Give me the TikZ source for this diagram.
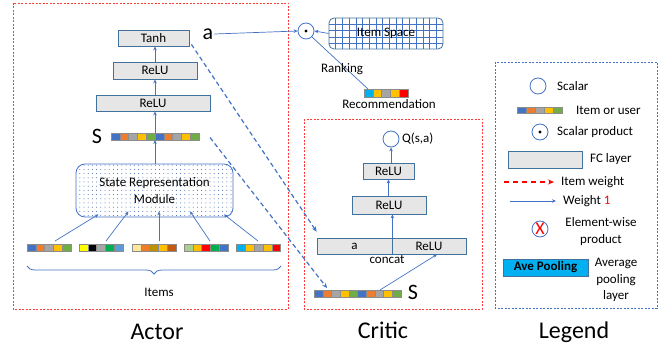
\documentclass[tikz,border=0pt]{standalone}
\usepackage{fontspec}
\setmainfont{Carlito}
\usetikzlibrary{arrows.meta,patterns.meta,decorations.pathreplacing,calc}
\definecolor{lineblue}{HTML}{4472C4}
\definecolor{boxline}{HTML}{41719C}
\definecolor{boxfill}{HTML}{E7E6E6}
\definecolor{redbox}{HTML}{FF3B3B}
\definecolor{cblue}{HTML}{4472C4}
\definecolor{corange}{HTML}{ED7D31}
\definecolor{cgray}{HTML}{A5A5A5}
\definecolor{cgold}{HTML}{FFC000}
\definecolor{cgreen}{HTML}{70AD47}
\definecolor{cyellow}{HTML}{FFFF00}
\definecolor{cblack}{HTML}{000000}
\definecolor{cbgreen}{HTML}{00B050}
\definecolor{clblue}{HTML}{5B9BD5}
\definecolor{ctan}{HTML}{FFE699}
\definecolor{cdgold}{HTML}{BF9000}
\definecolor{cdorange}{HTML}{C55A11}
\definecolor{clgreen}{HTML}{A9D18E}
\definecolor{cred}{HTML}{FF0000}
\definecolor{ccyan}{HTML}{00B0F0}
\newcommand{\myfs}{\fontsize{13}{16.5}\selectfont}
\newcommand{\myfb}{\fontsize{22}{24}\selectfont}
\newcommand{\myft}{\fontsize{24}{28}\selectfont}
\newcommand{\mycells}[3]{\foreach \clr [count=\i from 0] in {#3}{\draw[cellline, fill=\clr] ($(#1.north west)+(\i*#2,0)$) rectangle ($(#1.south west)+(\i*#2+#2,0)$);}}
\begin{document}
\begin{tikzpicture}[x=1pt,y=-1pt,
  fc/.style={draw=boxline, fill=boxfill, line width=0.8pt, inner sep=0pt, font=\myfs},
  vecnode/.style={inner sep=0pt, outer sep=0pt, minimum height=7},
  cellline/.style={draw=black!45, line width=0.3pt},
  arr/.style={draw=lineblue, line width=0.7pt, -{Stealth[length=4pt,width=3.5pt]}},
  dasharr/.style={draw=lineblue, line width=1.2pt, dash pattern=on 4.5pt off 3pt, -{Stealth[length=5pt,width=4.5pt]}},
  redframe/.style={draw=redbox, line width=0.8pt, dash pattern=on 2pt off 1.5pt},
  blueframe/.style={draw=lineblue, line width=0.8pt, dash pattern=on 2pt off 1.5pt},
  scal/.style={circle, draw=lineblue, line width=0.8pt, minimum size=16, inner sep=0pt},
  lab/.style={font=\myfs, inner sep=1pt},
  title/.style={font=\myft}]
\useasboundingbox (0,0) rectangle (672,350);

% ---------- frames ----------
\draw[redframe] (13,3) rectangle (288,309);
\draw[redframe] (304,119) rectangle (482,309);
\draw[blueframe] (495,62) rectangle (657,308);

% ---------- Actor ----------
\node[fc, minimum width=71, minimum height=16] (tanh) at (153.5,38) {Tanh};
\node[font=\myfb, inner sep=1pt] (alab) at (208,34) {a};
\node[fc, minimum width=84, minimum height=17] (relu1) at (155,70.5) {ReLU};
\node[fc, minimum width=114, minimum height=16] (relu2) at (153,103) {ReLU};
\node[vecnode, minimum width=88] (sA) at (155,136.5) {};
\mycells{sA}{8.8}{cblue,corange,cgray,cgold,cgreen,cblue,corange,cgray,cgold,cgreen}
\node[font=\myfb, inner sep=1pt] (sAlab) at (97,136) {S};
\node[draw=lineblue, line width=0.8pt, rounded corners=9pt,
  pattern={Dots[distance=4.2pt,radius=0.5pt]}, pattern color=lineblue!85!black,
  minimum width=157, minimum height=53, align=center, font=\myfs] (srm) at (154.5,190.5) {State Representation\\Module};

\node[vecnode, minimum width=44] (i1) at (49,247.5) {};
\node[vecnode, minimum width=44] (i2) at (101,247.5) {};
\node[vecnode, minimum width=44] (i3) at (154,247.5) {};
\node[vecnode, minimum width=44] (i4) at (206,247.5) {};
\node[vecnode, minimum width=44] (i5) at (258.5,247.5) {};
\mycells{i1}{8.8}{cblue,corange,cgray,cgold,cgreen}
\mycells{i2}{8.8}{cyellow,cblack,cgray,cbgreen,clblue}
\mycells{i3}{8.8}{ctan,corange,cdgold,cgold,cdorange}
\mycells{i4}{8.8}{clgreen,cgold,cred,cbgreen,cblue}
\mycells{i5}{8.8}{ccyan,cgold,cgray,cgold,cred}

\draw[arr] ($(i1.north)+(6,-3)$) -- ($(srm.south)+(-56,-3)$);
\draw[arr] ($(i2.north)+(5,-3)$) -- ($(srm.south)+(-26,-6)$);
\draw[arr] ($(i3.north)+(5,-3)$) -- ($(srm.south)+(4.5,-6)$);
\draw[arr] ($(i4.north)+(4,-3)$) -- ($(srm.south)+(35.5,-6)$);
\draw[arr] ($(i5.north)+(-0.5,-3)$) -- ($(srm.south)+(69.5,-3)$);

\draw[draw=lineblue, line width=0.8pt, decorate, decoration={brace, mirror, amplitude=8pt}] (27,266) -- (281,266);
\node[lab] (items) at (159,292) {Items};

\draw[arr] (srm.north -| sA.south) -- (sA.south);
\draw[arr] (sA.north) -- (relu2.south -| sA.north);
\draw[arr] (relu2.north -| relu1.south) -- (relu1.south);
\draw[arr] (relu1.north) -- (tanh.south -| relu1.north);

\node[title] (actor) at (157,332) {Actor};

% ---------- top right ----------
\node[scal] (dot) at (306,31) {};
\fill (dot.center) circle (1.6);
\begin{scope}
\clip[rounded corners=5pt] (329,18) rectangle (443,49);
\foreach \k in {1,...,16} \draw[lineblue, line width=0.6pt] (329+\k*6.7,18) -- (329+\k*6.7,49);
\foreach \k in {1,...,4} \draw[lineblue, line width=0.6pt] (329,18+\k*6.3) -- (443,18+\k*6.3);
\end{scope}
\node[draw=boxline, line width=0.8pt, rounded corners=5pt, minimum width=114, minimum height=31, font=\myfs] (isp) at (386,33.5) {Item Space};
\draw[arr] (alab.east) -- (dot.west);
\draw[arr] (isp.west) -- (dot.east);
\node[vecnode, minimum width=44, minimum height=8] (rec) at (386,93) {};
\mycells{rec}{8.8}{ccyan,cgold,cgray,cgold,cred}
\draw[lineblue, line width=0.7pt] (dot.south east) -- ($(rec.north west)+(4,0)$);
\node[lab] (rank) at (342,69) {Ranking};
\node[lab] (recl) at (389,104) {Recommendation};

% ---------- Critic ----------
\node[scal] (q) at (391,139) {};
\node[lab, anchor=west] (qlab) at (401,139) {Q(s,a)};
\node[fc, minimum width=51, minimum height=16] (cr1) at (388.5,171) {ReLU};
\node[fc, minimum width=74, minimum height=18] (cr2) at (389,205) {ReLU};
\node[fc, minimum width=75, minimum height=16] (ca) at (354.5,246) {a};
\node[fc, minimum width=74, minimum height=16] (cr) at (429,246) {ReLU};
\node[lab] (concat) at (387,259.5) {concat};
\node[vecnode, minimum width=87] (sC) at (357.5,293.5) {};
\mycells{sC}{8.7}{cblue,corange,cgray,cgold,cgreen,cblue,corange,cgray,cgold,cgreen}
\node[font=\myfb, inner sep=1pt] (sClab) at (413,292) {S};

\draw[arr] ($(sC.north west)+(66,0)$) -- ($(cr.south)+(8,0)$);
\draw[arr] (ca.north east) -- (ca.north east |- cr2.south);
\draw[arr] (cr2.north -| cr1.south) -- (cr1.south);
\draw[arr] (cr1.north -| q.south) -- (q.south);

\coordinate (d1s) at ($(tanh.south east)+(2,-2)$);
\coordinate (d1e) at ($(ca.north west)+(0,-6)$);
\draw[dasharr] (d1s) -- (d1e);
\coordinate (d2s) at ($(sA.east)+(11,1)$);
\coordinate (d2e) at ($(sC.north west)+(13,-2)$);
\draw[dasharr] (d2s) -- (d2e);

\node[title] (critic) at (383,330) {Critic};

% ---------- Legend ----------
\node[scal] (lg1) at (538,86) {};
\node[lab, anchor=west] (lg1t) at (556,86) {Scalar};
\node[vecnode, minimum width=45, minimum height=6] (lg2) at (539.5,110) {};
\mycells{lg2}{9}{cblue,corange,cgray,cgold,cgreen}
\node[lab, anchor=west] (lg2t) at (575,110) {Item or user};
\node[scal] (lg3) at (540,132) {};
\fill (lg3.center) circle (1.6);
\node[lab, anchor=west] (lg3t) at (556,132) {Scalar product};
\node[fc, minimum width=74, minimum height=17] (lg4) at (545,159.5) {};
\node[lab, anchor=west] (lg4t) at (589,159) {FC layer};
\coordinate (lg5a) at (504,182);
\coordinate (lg5b) at (554,182);
\draw[draw=red, line width=1.6pt, dash pattern=on 5pt off 4pt, -{Stealth[length=6pt,width=5pt]}] (lg5a) -- (lg5b);
\node[lab, anchor=west] (lg5t) at (560,182) {Item weight};
\coordinate (lg6a) at (510,201);
\coordinate (lg6b) at (556,201);
\draw[arr] (lg6a) -- (lg6b);
\node[lab, anchor=west] (lg6t) at (562,201) {Weight {\color{red}1}};
\node[scal] (lg7) at (540,229) {};
\node[text=red, font=\fontsize{18}{18}\selectfont, inner sep=0pt] at (lg7.center) {X};
\node[lab, align=center] (lg7t) at (601,231.5) {Element-wise\\product};
\node[draw=boxline, fill=ccyan, line width=0.8pt, minimum width=85, minimum height=17, inner sep=0pt, font=\myfs\bfseries] (lg8) at (545.5,267.5) {Ave Pooling};
\node[lab, align=center] (lg8t) at (616,280) {Average\\pooling\\layer};

\node[title] (legend) at (574,332) {Legend};
\end{tikzpicture}
\end{document}
